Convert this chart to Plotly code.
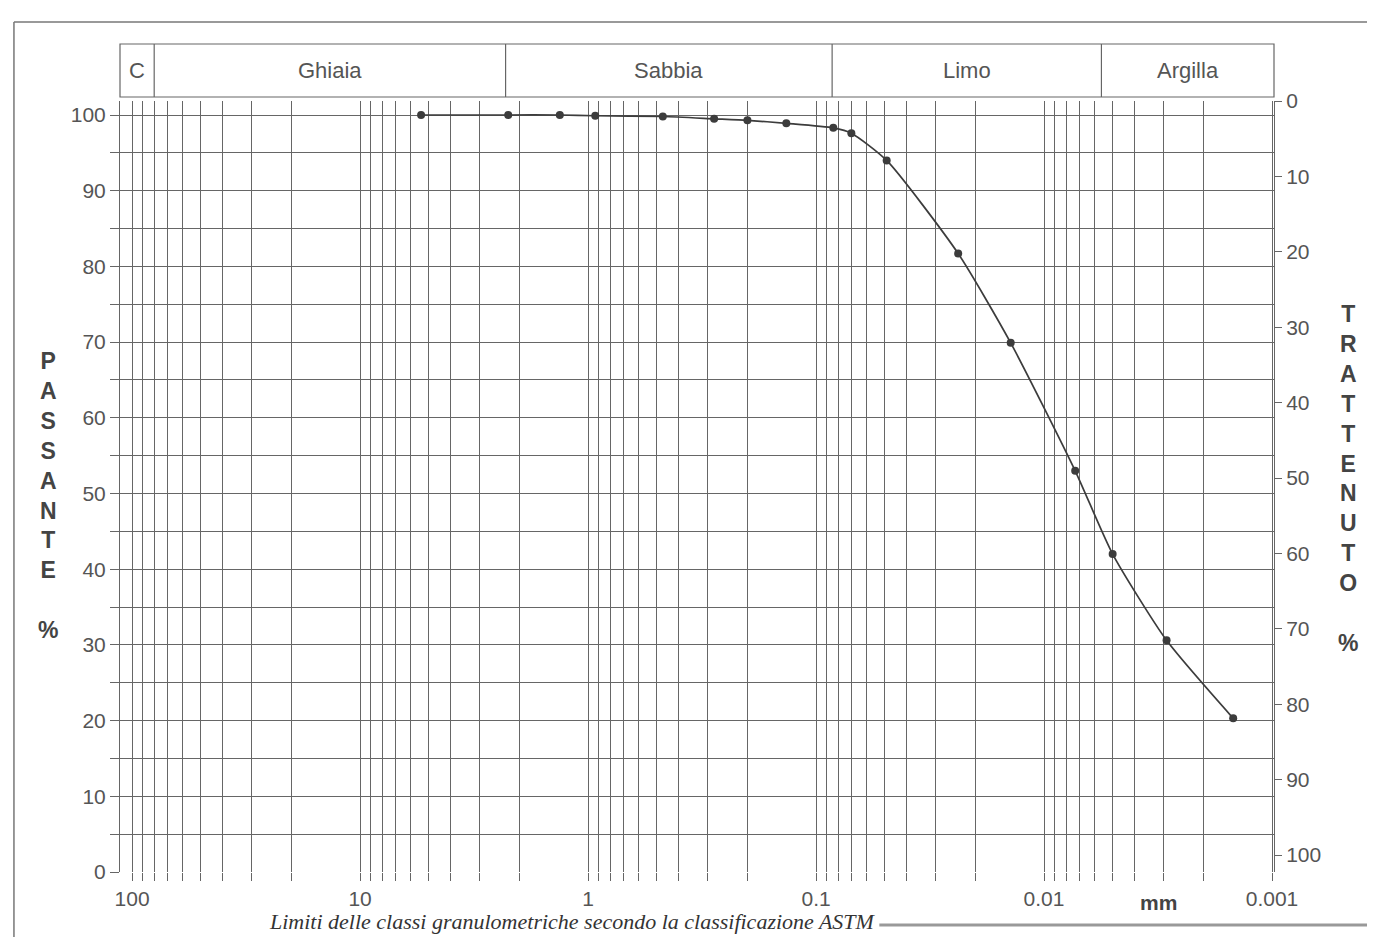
import numpy as np
import plotly.graph_objects as go

# curva granulometrica: diametro (mm) e passante (%)
diametro = [5.4, 2.24, 1.33, 0.93, 0.47, 0.28, 0.2, 0.135, 0.084, 0.07,
            0.049, 0.0238, 0.014, 0.0073, 0.005, 0.0029, 0.00148]
passante = [100, 100, 100, 99.9, 99.8, 99.5, 99.3, 98.9, 98.3, 97.6,
            94.0, 81.7, 69.9, 53.0, 42.0, 30.6, 20.3]

# classi granulometriche e loro limiti (mm)
classi = ["C", "Ghiaia", "Sabbia", "Limo", "Argilla"]
limiti = [113, 80, 2.3, 0.085, 0.0056, 0.00098]

decadi = [100, 10, 1, 0.1, 0.01, 0.001]
etichette_x = ["100", "10", "1", "0.1", "0.01", "0.001"]

GRIGIO = "#555555"
GRIGLIA = "#666666"

# tick su tutta la carta logaritmica, etichette solo sulle decadi
xv = [round(m * 10.0 ** e, 6) for e in range(-3, 2) for m in range(1, 10)] + [100]
xt = [etichette_x[decadi.index(v)] if v in decadi else "" for v in xv]

yv = list(range(0, 101, 5))
yt = [str(v) if v % 10 == 0 else "" for v in yv]

fig = go.Figure()
fig.add_trace(go.Scatter(
    x=diametro, y=passante, mode="lines+markers",
    line=dict(color="#3c3c3c", width=1.7, shape="spline", smoothing=0.6),
    marker=dict(color="#3c3c3c", size=8),
    cliponaxis=False, showlegend=False,
))
# asse destro (trattenuto)
fig.add_trace(go.Scatter(x=[diametro[0]], y=[0], yaxis="y2", mode="markers",
                         marker=dict(opacity=0), showlegend=False, hoverinfo="skip"))

fig.update_layout(
    width=1367, height=929,
    margin=dict(l=112, r=101, t=93, b=65),
    paper_bgcolor="white", plot_bgcolor="white",
    font=dict(family="Liberation Sans, Arial, sans-serif", color=GRIGIO, size=21),
    xaxis=dict(
        type="log", range=[np.log10(limiti[0]), np.log10(limiti[-1])],
        tickvals=xv, ticktext=xt, ticks="outside", ticklen=8, tickcolor=GRIGLIA,
        showgrid=True, gridcolor=GRIGLIA, gridwidth=1, zeroline=False,
        showline=False, tickfont=dict(size=21, color=GRIGIO),
    ),
    yaxis=dict(
        range=[0, 101.85], tickvals=yv, ticktext=yt, ticks="outside", ticklen=9,
        tickcolor=GRIGLIA, showgrid=True, gridcolor=GRIGLIA, gridwidth=1,
        zeroline=False, showline=True, linecolor=GRIGLIA, linewidth=1,
        tickfont=dict(size=21, color=GRIGIO),
    ),
    yaxis2=dict(
        overlaying="y", side="right", range=[102.25, 0],
        tickvals=list(range(0, 101, 10)), ticks="outside", ticklen=7,
        tickcolor=GRIGLIA, showgrid=False, zeroline=False, showline=True,
        linecolor=GRIGLIA, linewidth=1, tickfont=dict(size=21, color=GRIGIO),
    ),
)

# intestazione con le classi granulometriche
h0, h1 = 1.0052, 1.0739
fig.add_shape(type="rect", xref="paper", yref="paper", x0=0, x1=1, y0=h0, y1=h1,
              line=dict(color=GRIGLIA, width=1.2), fillcolor="white")
for lim in limiti[1:-1]:
    fig.add_shape(type="line", xref="x", yref="paper", x0=lim, x1=lim, y0=h0, y1=h1,
                  line=dict(color=GRIGLIA, width=1.2))
for i, nome in enumerate(classi):
    xm = (np.log10(limiti[i]) + np.log10(limiti[i + 1])) / 2
    fig.add_annotation(x=xm, xref="x", y=(h0 + h1) / 2, yref="paper", text=nome,
                       showarrow=False, yanchor="middle",
                       font=dict(size=22, color=GRIGIO))

# titoli degli assi in lettere impilate
fig.add_annotation(x=-0.0624, xref="paper", y=0.488, yref="paper",
                   text="<b>" + "<br>".join(list("PASSANTE")) + "<br><br>%</b>",
                   showarrow=False, font=dict(size=23, color="#444444"),
                   xanchor="center", yanchor="middle")
fig.add_annotation(x=1.064, xref="paper", y=0.5104, yref="paper",
                   text="<b>" + "<br>".join(list("TRATTENUTO")) + "<br><br>%</b>",
                   showarrow=False, font=dict(size=23, color="#444444"),
                   xanchor="center", yanchor="middle")

fig.add_annotation(x=0.8995, xref="paper", y=-0.0402, yref="paper", text="<b>mm</b>",
                   showarrow=False, xanchor="center", yanchor="middle",
                   font=dict(size=21, color="#444444"))
fig.add_annotation(x=0.3917, xref="paper", y=-0.0645, yref="paper",
                   text="<i>Limiti delle classi granulometriche secondo la classificazione ASTM</i>",
                   showarrow=False, xanchor="center", yanchor="middle",
                   font=dict(family="Liberation Serif, Times New Roman, serif", size=22, color="#333333"))

# cornice della scheda
fig.add_shape(type="line", xref="paper", yref="paper", x0=-0.0919, x1=-0.0919, y0=-0.09, y1=1.1025,
              line=dict(color="#777777", width=1.5))
fig.add_shape(type="line", xref="paper", yref="paper", x0=-0.0919, x1=1.1, y0=1.1025, y1=1.1025,
              line=dict(color="#777777", width=1.5))
fig.add_shape(type="line", xref="paper", yref="paper", x0=-0.11, x1=1.1, y0=1.1255, y1=1.1255,
              line=dict(color="#666666", width=3))
fig.add_shape(type="line", xref="paper", yref="paper", x0=0.658, x1=1.1, y0=-0.0687, y1=-0.0687,
              line=dict(color="#999999", width=3))

fig.write_html("out.html")
